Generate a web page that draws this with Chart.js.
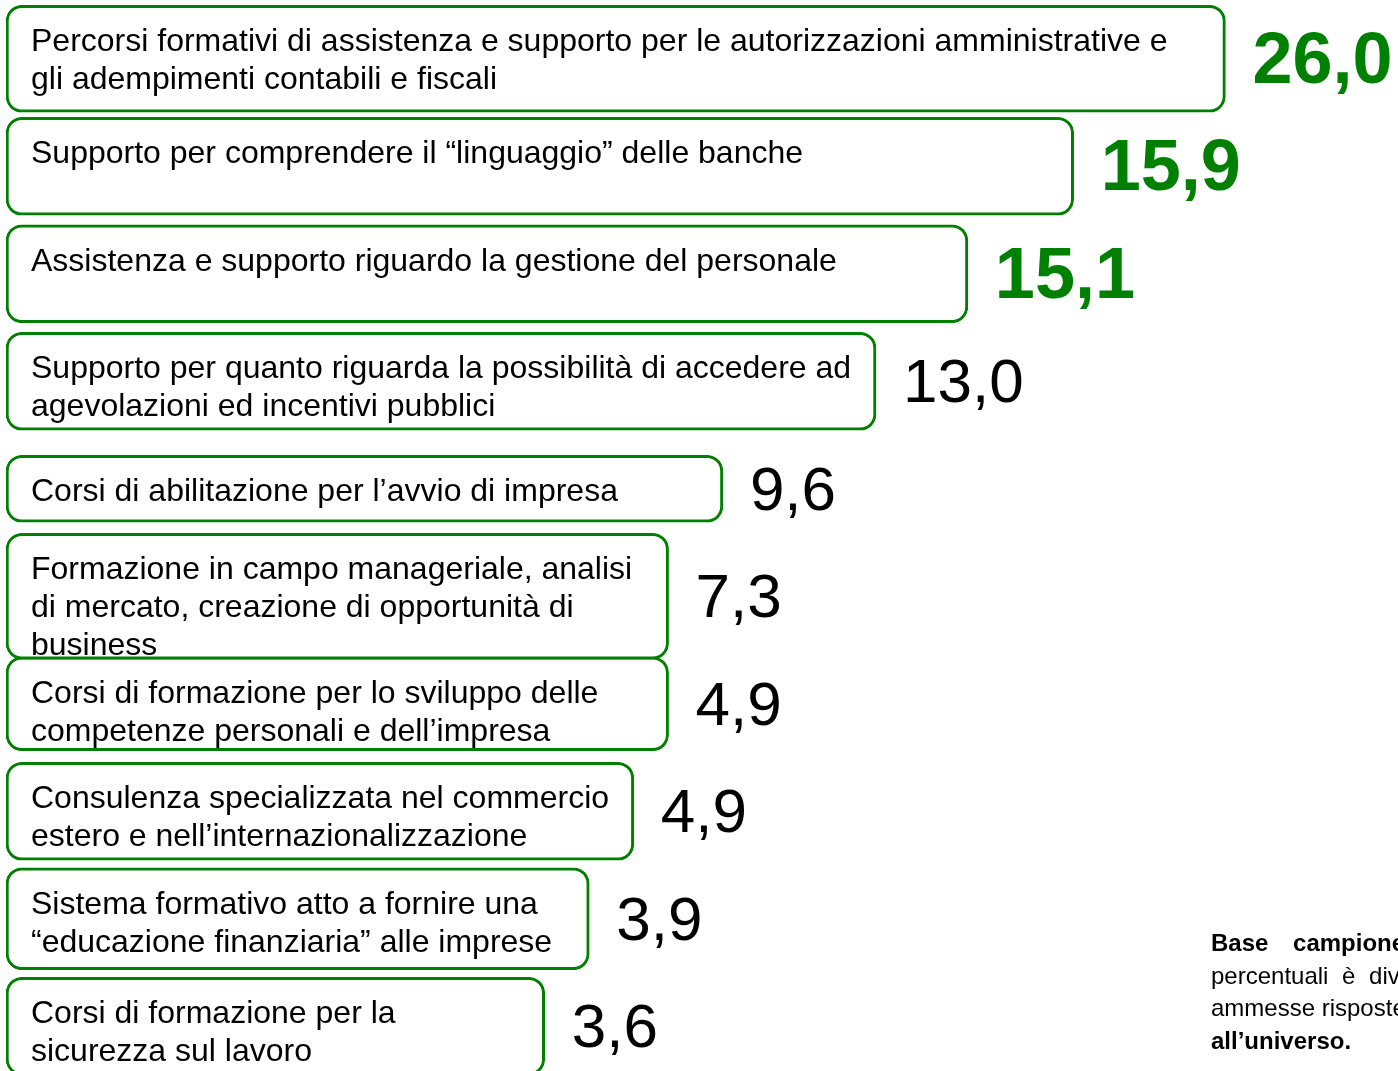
<!DOCTYPE html>
<html>
<head>
<meta charset="utf-8">
<script src="https://cdn.jsdelivr.net/npm/chart.js@4.4.0/dist/chart.umd.min.js"></script>
<style>
html, body { margin: 0; padding: 0; background: #fff; overflow: hidden; width: 1398px; height: 1071px; }
#wrap { position: absolute; left: 0; top: 0; width: 1398px; height: 1080px; }
#note { position: absolute; left: 1211px; top: 927px; font-family: "Liberation Sans", Arial, sans-serif; font-size: 24px; line-height: 32.7px; white-space: nowrap; color: #000; }
#note b { font-weight: bold; }
</style>
</head>
<body>
<div id="wrap"><canvas id="chart" width="1398" height="1080"></canvas></div>
<div id="note">
  <div><b style="word-spacing:18px">Base campione: 1.000 imprese.</b></div>
  <div style="word-spacing:7px">percentuali è diverso da 100</div>
  <div>ammesse risposte multiple.</div>
  <div><b>all’universo.</b></div>
</div>
<script>
let categories = [
    ['Percorsi formativi di assistenza e supporto per le autorizzazioni amministrative e', 'gli adempimenti contabili e fiscali'],
    ['Supporto per comprendere il “linguaggio” delle banche'],
    ['Assistenza e supporto riguardo la gestione del personale'],
    ['Supporto per quanto riguarda la possibilità di accedere ad', 'agevolazioni ed incentivi pubblici'],
    ['Corsi di abilitazione per l’avvio di impresa'],
    ['Formazione in campo manageriale, analisi', 'di mercato, creazione di opportunità di', 'business'],
    ['Corsi di formazione per lo sviluppo delle', 'competenze personali e dell’impresa'],
    ['Consulenza specializzata nel commercio', 'estero e nell’internazionalizzazione'],
    ['Sistema formativo atto a fornire una', '“educazione finanziaria” alle imprese'],
    ['Corsi di formazione per la', 'sicurezza sul lavoro']
];
let percentages = [26.0, 15.9, 15.1, 13.0, 9.6, 7.3, 4.9, 4.9, 3.9, 3.6];
// length of each box as drawn in the original slide (scale 0-100)
let boxLength = [87.6, 76.7, 69.1, 62.5, 51.5, 47.6, 47.6, 45.1, 41.9, 38.7];
let topThree = [true, true, true, false, false, false, false, false, false, false];

let green = '#008000';
let font = '"Liberation Sans", Arial, sans-serif';
let boxHeights = [107, 98, 98, 98, 67, 126, 94, 98, 102, 98];

let datasets = categories.map((c, i) => ({
    data: boxLength.map((v, j) => j === i ? v : null),
    backgroundColor: '#ffffff',
    borderColor: green,
    borderWidth: 3,
    borderRadius: 16,
    borderSkipped: false,
    barThickness: boxHeights[i],
    grouped: false
}));

let labelPlugin = {
    id: 'boxText',
    afterDatasetsDraw(chart) {
        let ctx = chart.ctx;
        ctx.save();
        chart.data.datasets.forEach((ds, i) => {
            let el = chart.getDatasetMeta(i).data[i];
            let top = el.y - el.height / 2;
            ctx.fillStyle = '#000';
            ctx.font = '32px ' + font;
            ctx.textAlign = 'left';
            ctx.textBaseline = 'middle';
            categories[i].forEach((line, k) => {
                ctx.fillText(line, chart.chartArea.left + 25, top + 37 + k * 38);
            });
            let txt = percentages[i].toFixed(1).replace('.', ',');
            if (topThree[i]) {
                ctx.fillStyle = green;
                ctx.font = 'bold 72px ' + font;
            } else {
                ctx.fillStyle = '#000';
                ctx.font = '62px ' + font;
            }
            ctx.fillText(txt, el.x + 27, el.y + 4);
        });
        ctx.restore();
    }
};

let ctx = document.getElementById('chart').getContext('2d');
new Chart(ctx, {
    type: 'bar',
    data: {
        labels: categories,
        datasets: datasets
    },
    options: {
        indexAxis: 'y',
        responsive: false,
        animation: false,
        layout: { padding: { left: 6, top: 5, right: 0, bottom: 0 } },
        plugins: { legend: { display: false }, tooltip: { enabled: false } },
        scales: {
            x: { display: false, min: 0, max: 100 },
            y: { display: false }
        }
    },
    plugins: [labelPlugin]
});
</script>
</body>
</html>
